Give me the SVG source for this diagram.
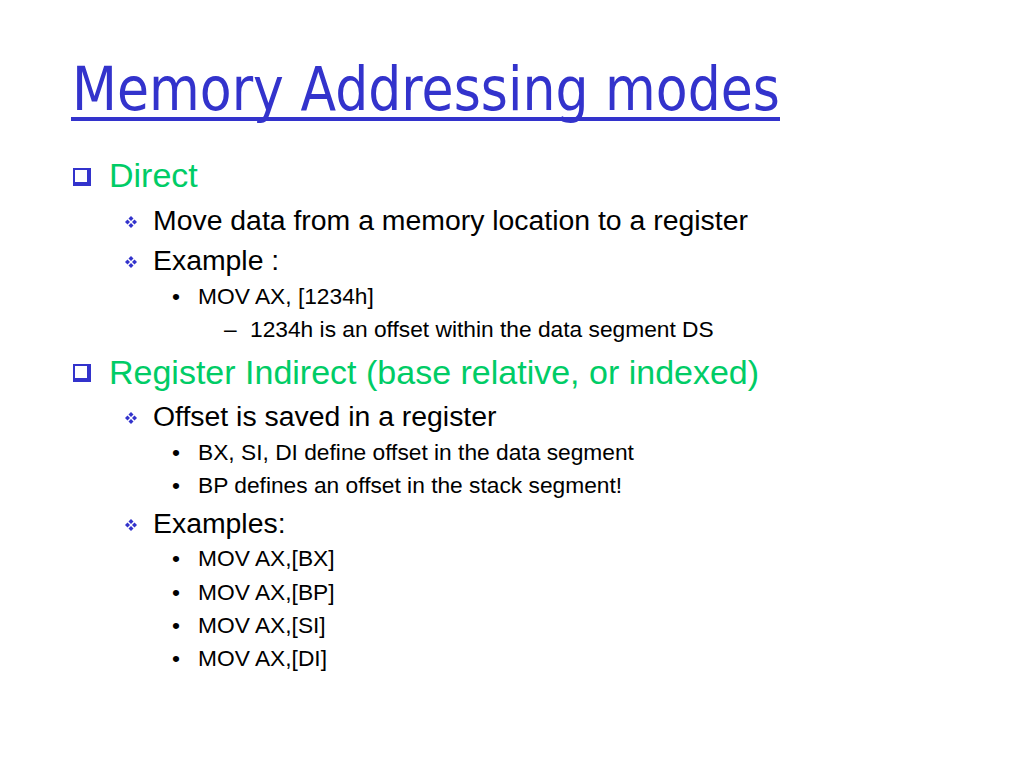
<svg xmlns="http://www.w3.org/2000/svg" width="1024" height="768" viewBox="0 0 1024 768">
<defs>
<style>
.title{font-family:"DejaVu Sans","Liberation Sans",sans-serif;font-size:60px;fill:#3333cc}
.l1{font-family:"Liberation Sans",Arial,sans-serif;font-size:34px;fill:#00cc66}
.l2{font-family:"Liberation Sans",Arial,sans-serif;font-size:28.4px;fill:#000}
.l3{font-family:"Liberation Sans",Arial,sans-serif;font-size:22.75px;fill:#000}
</style>
<g id="box">
<rect x="0" y="0" width="18" height="18" fill="#3333cc"/>
<rect x="2" y="2" width="12" height="12" fill="#fff"/>
</g>
<g id="dia" fill="#3333cc">
<path d="M0,-6 L2.5,-3.5 L0,-1 L-2.5,-3.5Z"/>
<path d="M0,6 L2.5,3.5 L0,1 L-2.5,3.5Z"/>
<path d="M-6,0 L-3.5,2.5 L-1,0 L-3.5,-2.5Z"/>
<path d="M6,0 L3.5,2.5 L1,0 L3.5,-2.5Z"/>
</g>
</defs>
<rect width="1024" height="768" fill="#fff"/>
<g id="title">
<text class="title" x="72" y="110" textLength="708" lengthAdjust="spacingAndGlyphs">Memory Addressing modes</text>
<rect x="71" y="117" width="709" height="4" fill="#3333cc"/>
</g>
<g id="direct">
<use href="#box" x="73" y="168"/>
<text class="l1" x="109" y="187">Direct</text>
<use href="#dia" x="131" y="222"/>
<text class="l2" x="153" y="230">Move data from a memory location to a register</text>
<use href="#dia" x="131" y="262"/>
<text class="l2" x="153" y="270">Example :</text>
<text class="l3" x="172" y="304">•</text>
<text class="l3" x="198" y="304">MOV AX, [1234h]</text>
<text class="l3" x="224" y="337">–</text>
<text class="l3" x="250" y="337">1234h is an offset within the data segment DS</text>
</g>
<g id="indirect">
<use href="#box" x="73" y="364"/>
<text class="l1" x="109" y="384">Register Indirect (base relative, or indexed)</text>
<use href="#dia" x="131" y="418"/>
<text class="l2" x="153" y="426">Offset is saved in a register</text>
<text class="l3" x="172" y="460">•</text>
<text class="l3" x="198" y="460">BX, SI, DI define offset in the data segment</text>
<text class="l3" x="172" y="493">•</text>
<text class="l3" x="198" y="493">BP defines an offset in the stack segment!</text>
<use href="#dia" x="131" y="525"/>
<text class="l2" x="153" y="533">Examples:</text>
<text class="l3" x="172" y="566">•</text>
<text class="l3" x="198" y="566">MOV AX,[BX]</text>
<text class="l3" x="172" y="600">•</text>
<text class="l3" x="198" y="600">MOV AX,[BP]</text>
<text class="l3" x="172" y="633">•</text>
<text class="l3" x="198" y="633">MOV AX,[SI]</text>
<text class="l3" x="172" y="666">•</text>
<text class="l3" x="198" y="666">MOV AX,[DI]</text>
</g>
</svg>
